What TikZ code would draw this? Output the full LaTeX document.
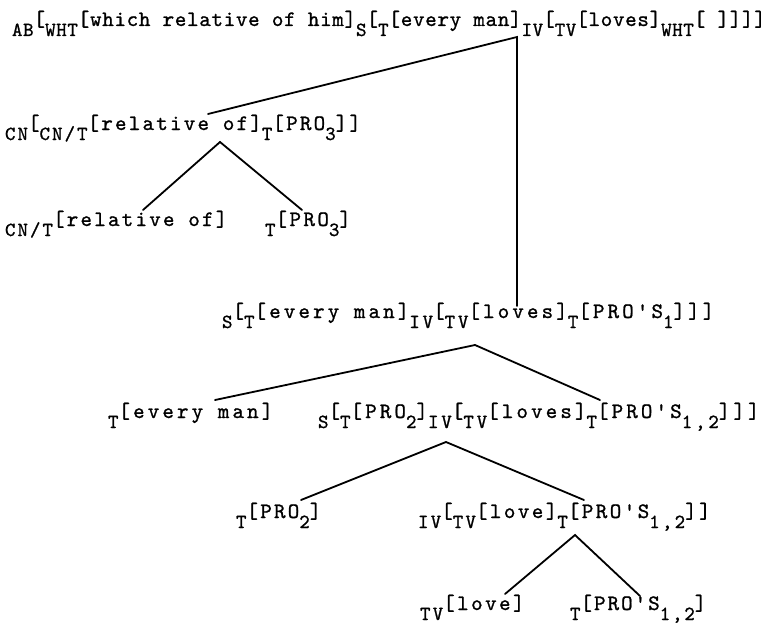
\documentclass[tikz,border=0pt]{standalone}
\usepackage{fontspec}
\setmonofont{lmmono10-regular.otf}
\newcommand{\lab}[1]{\raisebox{-5pt}{\fontsize{10}{11}\selectfont #1}}
\begin{document}
\begin{tikzpicture}[x=0.5pt,y=-0.5pt,
  txt/.style={anchor=base west,inner sep=0pt,outer sep=0pt,
    font=\ttfamily\addfontfeatures{LetterSpace=#1,FakeBold=1}\fontsize{11}{13}\selectfont},
  branch/.style={line width=0.9pt,line cap=round}]
\useasboundingbox (0,0) rectangle (774,626);
% texts
\node[txt=3] (l1) at (12,26) {\lab{AB}[\lab{WHT}[which relative of him]\lab{S}[\lab{T}[every man]\lab{IV}[\lab{TV}[loves]\lab{WHT}[ ]]]]};
\node[txt=10] (l2) at (5,130) {\lab{CN}[\lab{CN/T}[relative of]\lab{T}[PRO\lab{3}]]};
\node[txt=10] (l3a) at (5,226) {\lab{CN/T}[relative of]};
\node[txt=11] (l3b) at (265,226) {\lab{T}[PRO\lab{3}]};
\node[txt=14] (l4) at (222,318) {\lab{S}[\lab{T}[every man]\lab{IV}[\lab{TV}[loves]\lab{T}[PRO'S\lab{1}]]]};
\node[txt=14] (l5a) at (108,418) {\lab{T}[every man]};
\node[txt=14] (l5b) at (318,418) {\lab{S}[\lab{T}[PRO\lab{2}]\lab{IV}[\lab{TV}[loves]\lab{T}[PRO'S\lab{1,2}]]]};
\node[txt=10] (l6a) at (236,518) {\lab{T}[PRO\lab{2}]};
\node[txt=11] (l6b) at (418,518) {\lab{IV}[\lab{TV}[love]\lab{T}[PRO'S\lab{1,2}]]};
\node[txt=11] (l7a) at (420,610) {\lab{TV}[love]};
\node[txt=9] (l7b) at (570,610) {\lab{T}[PRO'S\lab{1,2}]};
% connector points
\coordinate (a) at (517,37);
\coordinate (b) at (208,114);
\coordinate (c) at (517,306);
\coordinate (d) at (220,142);
\coordinate (e) at (143,210);
\coordinate (f) at (302,210);
\coordinate (g) at (475,345);
\coordinate (h) at (215,400);
\coordinate (i) at (600,400);
\coordinate (j) at (446,442);
\coordinate (k) at (301,500);
\coordinate (l) at (584,500);
\coordinate (m) at (575,535);
\coordinate (n) at (505,594);
\coordinate (o) at (640,596);
\draw[branch] (b) -- (a) -- (c);
\draw[branch] (e) -- (d) -- (f);
\draw[branch] (h) -- (g) -- (i);
\draw[branch] (k) -- (j) -- (l);
\draw[branch] (n) -- (m) -- (o);
\end{tikzpicture}
\end{document}
